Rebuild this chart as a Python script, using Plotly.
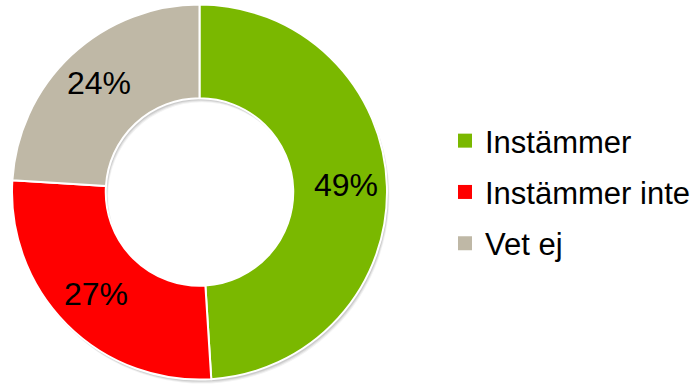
import math
import plotly.graph_objects as go

# Survey answers and their shares
labels = ["Instämmer", "Instämmer inte", "Vet ej"]
shares = [49, 27, 24]
colors = ["#7AB800", "#FF0000", "#BFB8A6"]

W, H = 698, 385
cx, cy, R = 199.5, 192.0, 187.5   # ring centre and outer radius (px)
HOLE = 0.5
FONT = "Liberation Sans, Arial"


def dom(dx=0.0, dy=0.0):
    return dict(x=[(cx - R + dx) / W, (cx + R + dx) / W],
                y=[1 - (cy + R + dy) / H, 1 - (cy - R + dy) / H])


fig = go.Figure()

# soft drop shadow under the ring
for off, alpha in [(4, 0.05), (3, 0.07), (2, 0.09)]:
    fig.add_trace(go.Pie(
        values=[1], labels=[" "], hole=HOLE, sort=False,
        marker=dict(colors=[f"rgba(0,0,0,{alpha})"], line=dict(width=0)),
        textinfo="none", hoverinfo="skip", showlegend=False,
        domain=dom(off * 0.6, off),
    ))

fig.add_trace(go.Pie(
    labels=labels,
    values=shares,
    marker=dict(colors=colors, line=dict(color="white", width=2)),
    hole=HOLE,
    sort=False,
    direction="clockwise",
    rotation=0,
    textinfo="none",
    domain=dom(),
    showlegend=False,
    hoverinfo="label+percent",
))

# percentage labels placed at each slice's mid-angle
total = sum(shares)
cum = 0.0
r_lab = 147.0
for v in shares:
    mid = (cum + v / 2) / total * 2 * math.pi
    cum += v
    px = cx + r_lab * math.sin(mid)
    py = cy - r_lab * math.cos(mid) - 2
    fig.add_annotation(
        x=px / W, y=1 - py / H, xref="paper", yref="paper",
        text=f"{round(v / total * 100)}%", showarrow=False,
        xanchor="center", yanchor="middle",
        font=dict(family=FONT, size=32, color="black"),
    )

# legend entries, one group each so the row spacing can be widened
for i, (lab, col) in enumerate(zip(labels, colors)):
    fig.add_trace(go.Scatter(
        x=[None], y=[None], mode="markers",
        marker=dict(symbol="square", size=14, color=col),
        name=lab, legendgroup=f"g{i}", showlegend=True,
    ))

fig.update_layout(
    width=W, height=H,
    margin=dict(l=0, r=0, t=0, b=0, autoexpand=False),
    paper_bgcolor="white", plot_bgcolor="white",
    xaxis=dict(visible=False), yaxis=dict(visible=False),
    legend=dict(
        x=445 / W, xanchor="left",
        y=1 - 192 / H, yanchor="middle",
        font=dict(family=FONT, size=31, color="black"),
        tracegroupgap=8,
        bgcolor="rgba(0,0,0,0)",
    ),
    font=dict(family=FONT),
)

fig.write_html("out.html")
